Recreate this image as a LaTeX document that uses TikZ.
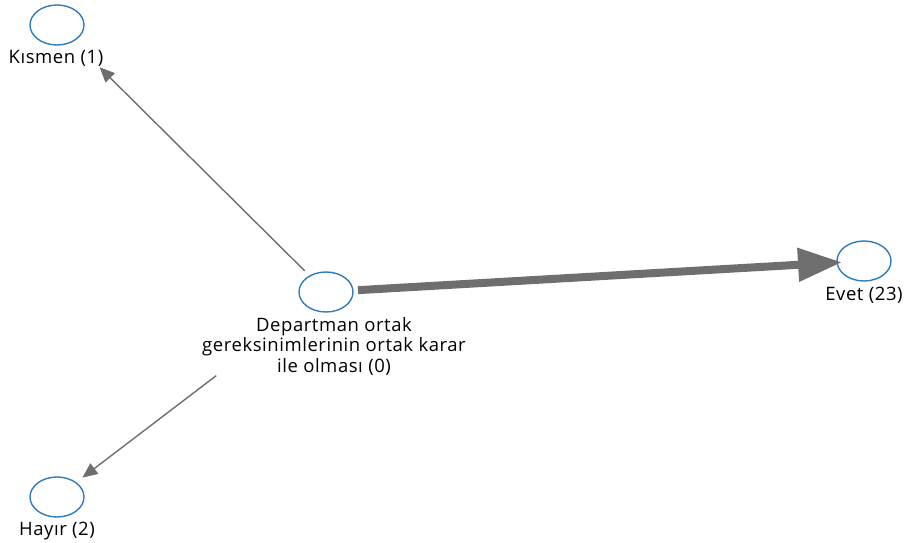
\documentclass[tikz,border=0pt]{standalone}
\usepackage{fontspec}
\setmainfont[LetterSpace=3]{Open Sans}
\usetikzlibrary{arrows.meta,shapes.geometric}
\definecolor{nodeblue}{HTML}{2E7BBF}
\definecolor{edgegray}{HTML}{6E6E6E}
\begin{document}
\begin{tikzpicture}[x=1pt,y=-1pt,
  vertex/.style={draw=nodeblue,line width=1.4pt,ellipse,minimum width=54pt,minimum height=40pt,inner sep=0pt},
  lbl/.style={font=\fontsize{18.5}{20.5}\selectfont,text=black,align=center,inner sep=0pt},
  thin/.style={draw=edgegray,line width=1.4pt,-{Triangle[length=15pt,width=13pt]}},
  thick/.style={draw=edgegray,line width=8pt,-{Triangle[length=44pt,width=32pt]}}]
\useasboundingbox (0,0) rectangle (905,543);
% vertices
\node[vertex] (ctr) at (326,292) {};
\node[vertex] (kis) at (57,25) {};
\node[vertex] (evt) at (864,261) {};
\node[vertex] (hay) at (57,497) {};
% labels
\node[lbl] (ctrl) at (334,346) {Departman ortak\\gereksinimlerinin ortak karar\\ile olması (0)};
\node[lbl] (kisl) at (56,58) {Kısmen (1)};
\node[lbl] (evtl) at (864,295) {Evet (23)};
\node[lbl] (hayl) at (57,531) {Hayır (2)};
% edges
\draw[thin,shorten <=30pt,shorten >=60pt] (ctr.center) -- (kis.center);
\draw[thin,shorten <=138pt,shorten >=32pt] (ctr.center) -- (hay.center);
\draw[thick,shorten <=32pt,shorten >=22pt] (ctr.center) -- (evt.center);
\end{tikzpicture}
\end{document}
